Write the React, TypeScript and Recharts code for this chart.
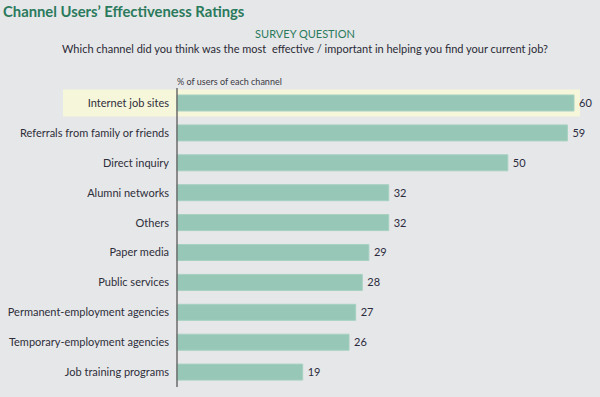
import React from "react";
import { BarChart, Bar, XAxis, YAxis, LabelList } from "recharts";

const categories = [
  "Internet job sites",
  "Referrals from family or friends",
  "Direct inquiry",
  "Alumni networks",
  "Others",
  "Paper media",
  "Public services",
  "Permanent-employment agencies",
  "Temporary-employment agencies",
  "Job training programs",
];
const values = [60, 59, 50, 32, 32, 29, 28, 27, 26, 19];
const highlighted = "Internet job sites";

const data = categories.map((c, i) => ({ name: c, value: values[i] }));

const W = 600;
const H = 397;
const MARGIN = { top: 88, right: 26, bottom: 10, left: 0 };
const AXIS_W = 177;
const FONT = "Lato, 'Open Sans', sans-serif";
const BG = "#e6e7e9";
const GREEN = "#2a7a5c";

const Tick = (props: any) => {
  const { x, y, payload } = props;
  return (
    <text
      x={x}
      y={y}
      dy={4}
      textAnchor="end"
      fill="#2e2e3a"
      fontSize={11}
      fontFamily={FONT}
    >
      {payload.value}
    </text>
  );
};

const Highlight = (props: any) => {
  const { y, height, index, payload } = props;
  const isHi =
    (payload && payload.name === highlighted) ||
    (payload == null && index === 0);
  if (!isHi) return <g />;
  const pad = 5.5;
  return (
    <rect
      x={63}
      y={y - pad}
      width={517}
      height={height + pad * 2}
      fill="#f6f6da"
    />
  );
};

export default function App() {
  return (
    <div
      style={{
        position: "absolute",
        left: 0,
        top: 0,
        width: W,
        height: H,
        background: BG,
        overflow: "hidden",
      }}
    >
      <BarChart
        width={W}
        height={H}
        data={data}
        layout="vertical"
        margin={MARGIN}
        barCategoryGap={7}
      >
        <XAxis type="number" domain={[0, 60]} hide />
        <YAxis
          type="category"
          dataKey="name"
          width={AXIS_W}
          tickLine={false}
          axisLine={{ stroke: "#6b6b6b", strokeWidth: 1.5 }}
          tick={<Tick />}
          tickMargin={2}
          interval={0}
        />
        <Bar
          dataKey="value"
          fill="#97c8b7"
          stroke="#a6d1c1"
          strokeWidth={1}
          background={(p: any) => <Highlight key={`hl-${p.index}`} {...p} />}
          isAnimationActive={false}
        >
          <LabelList
            dataKey="value"
            position="right"
            offset={5}
            fill="#2b2b3d"
            fontSize={11}
            fontFamily={FONT}
          />
        </Bar>
      </BarChart>
      <svg
        width={W}
        height={H}
        style={{ position: "absolute", left: 0, top: 0, pointerEvents: "none" }}
      >
        <text
          x={3}
          y={17}
          fill={GREEN}
          fontSize={14.8}
          fontWeight="bold"
          fontFamily={FONT}
        >
          Channel Users’ Effectiveness Ratings
        </text>
        <text
          x={305}
          y={38}
          textAnchor="middle"
          fill={GREEN}
          fontSize={11}
          fontFamily={FONT}
        >
          SURVEY QUESTION
        </text>
        <text
          x={305}
          y={53}
          textAnchor="middle"
          fill="#2a2a35"
          fontSize={11}
          fontFamily={FONT}
          style={{ whiteSpace: "pre" }}
        >
          Which channel did you think was the most  effective / important in helping you find your current job?
        </text>
        <text x={177} y={85} fill="#3a3a44" fontSize={9} fontFamily={FONT}>
          % of users of each channel
        </text>
      </svg>
    </div>
  );
}
